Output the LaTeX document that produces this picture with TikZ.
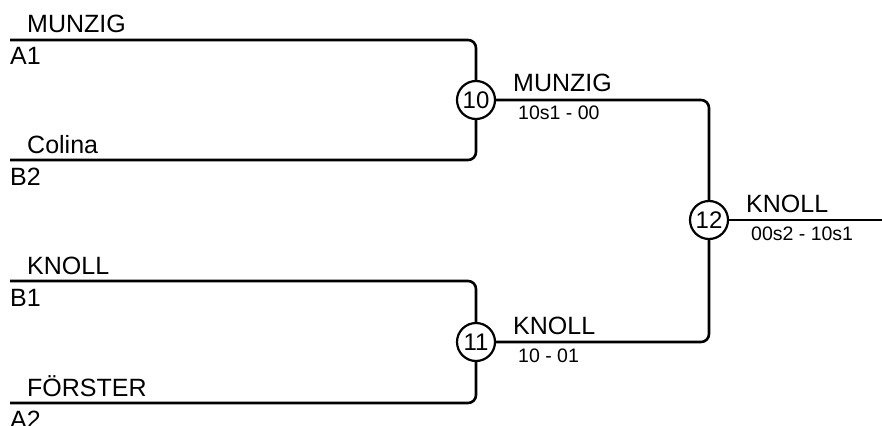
\documentclass[tikz,border=0pt]{standalone}
\usepackage{fontspec}
\setmainfont{Liberation Sans}
\begin{document}
\begin{tikzpicture}[x=1pt,y=-1pt,
  ln/.style={line width=2.6pt,rounded corners=8pt},
  mnode/.style={circle,draw,line width=2.2pt,minimum size=38pt,inner sep=0pt,font=\fontsize{24}{24}\selectfont},
  nm/.style={anchor=base west,inner sep=0pt,font=\fontsize{25}{25}\selectfont},
  sc/.style={anchor=base west,inner sep=0pt,font=\fontsize{19.5}{19.5}\selectfont}]
\useasboundingbox (0,0) rectangle (882,425);
\node[mnode] (m10) at (476,100) {10};
\node[mnode] (m11) at (476,342) {11};
\node[mnode] (m12) at (709,220) {12};
\coordinate (s1) at (10,40);
\coordinate (s2) at (10,160);
\coordinate (s3) at (10,281);
\coordinate (s4) at (10,403);
\coordinate (out) at (882,220);
\draw[ln] (s1) -| (m10.north);
\draw[ln] (s2) -| (m10.south);
\draw[ln] (s3) -| (m11.north);
\draw[ln] (s4) -| (m11.south);
\draw[ln] (m10.east) -| (m12.north);
\draw[ln] (m11.east) -| (m12.south);
\draw[ln] (m12.east) -- (out);
\node[nm] (n1) at (27,33) {MUNZIG};
\node[nm] (d1) at (10,65) {A1};
\node[nm] (n2) at (27,153) {Colina};
\node[nm] (d2) at (10,185) {B2};
\node[nm] (n3) at (27,274) {KNOLL};
\node[nm] (d3) at (10,306) {B1};
\node[nm] (n4) at (27,396) {FÖRSTER};
\node[nm] (d4) at (10,428) {A2};
\node[nm] (w10) at (513,92) {MUNZIG};
\node[sc] (r10) at (518,120) {10s1 - 00};
\node[nm] (w11) at (513,334) {KNOLL};
\node[sc] (r11) at (518,362) {10 - 01};
\node[nm] (w12) at (746,212) {KNOLL};
\node[sc] (r12) at (751,240) {00s2 - 10s1};
\end{tikzpicture}
\end{document}
